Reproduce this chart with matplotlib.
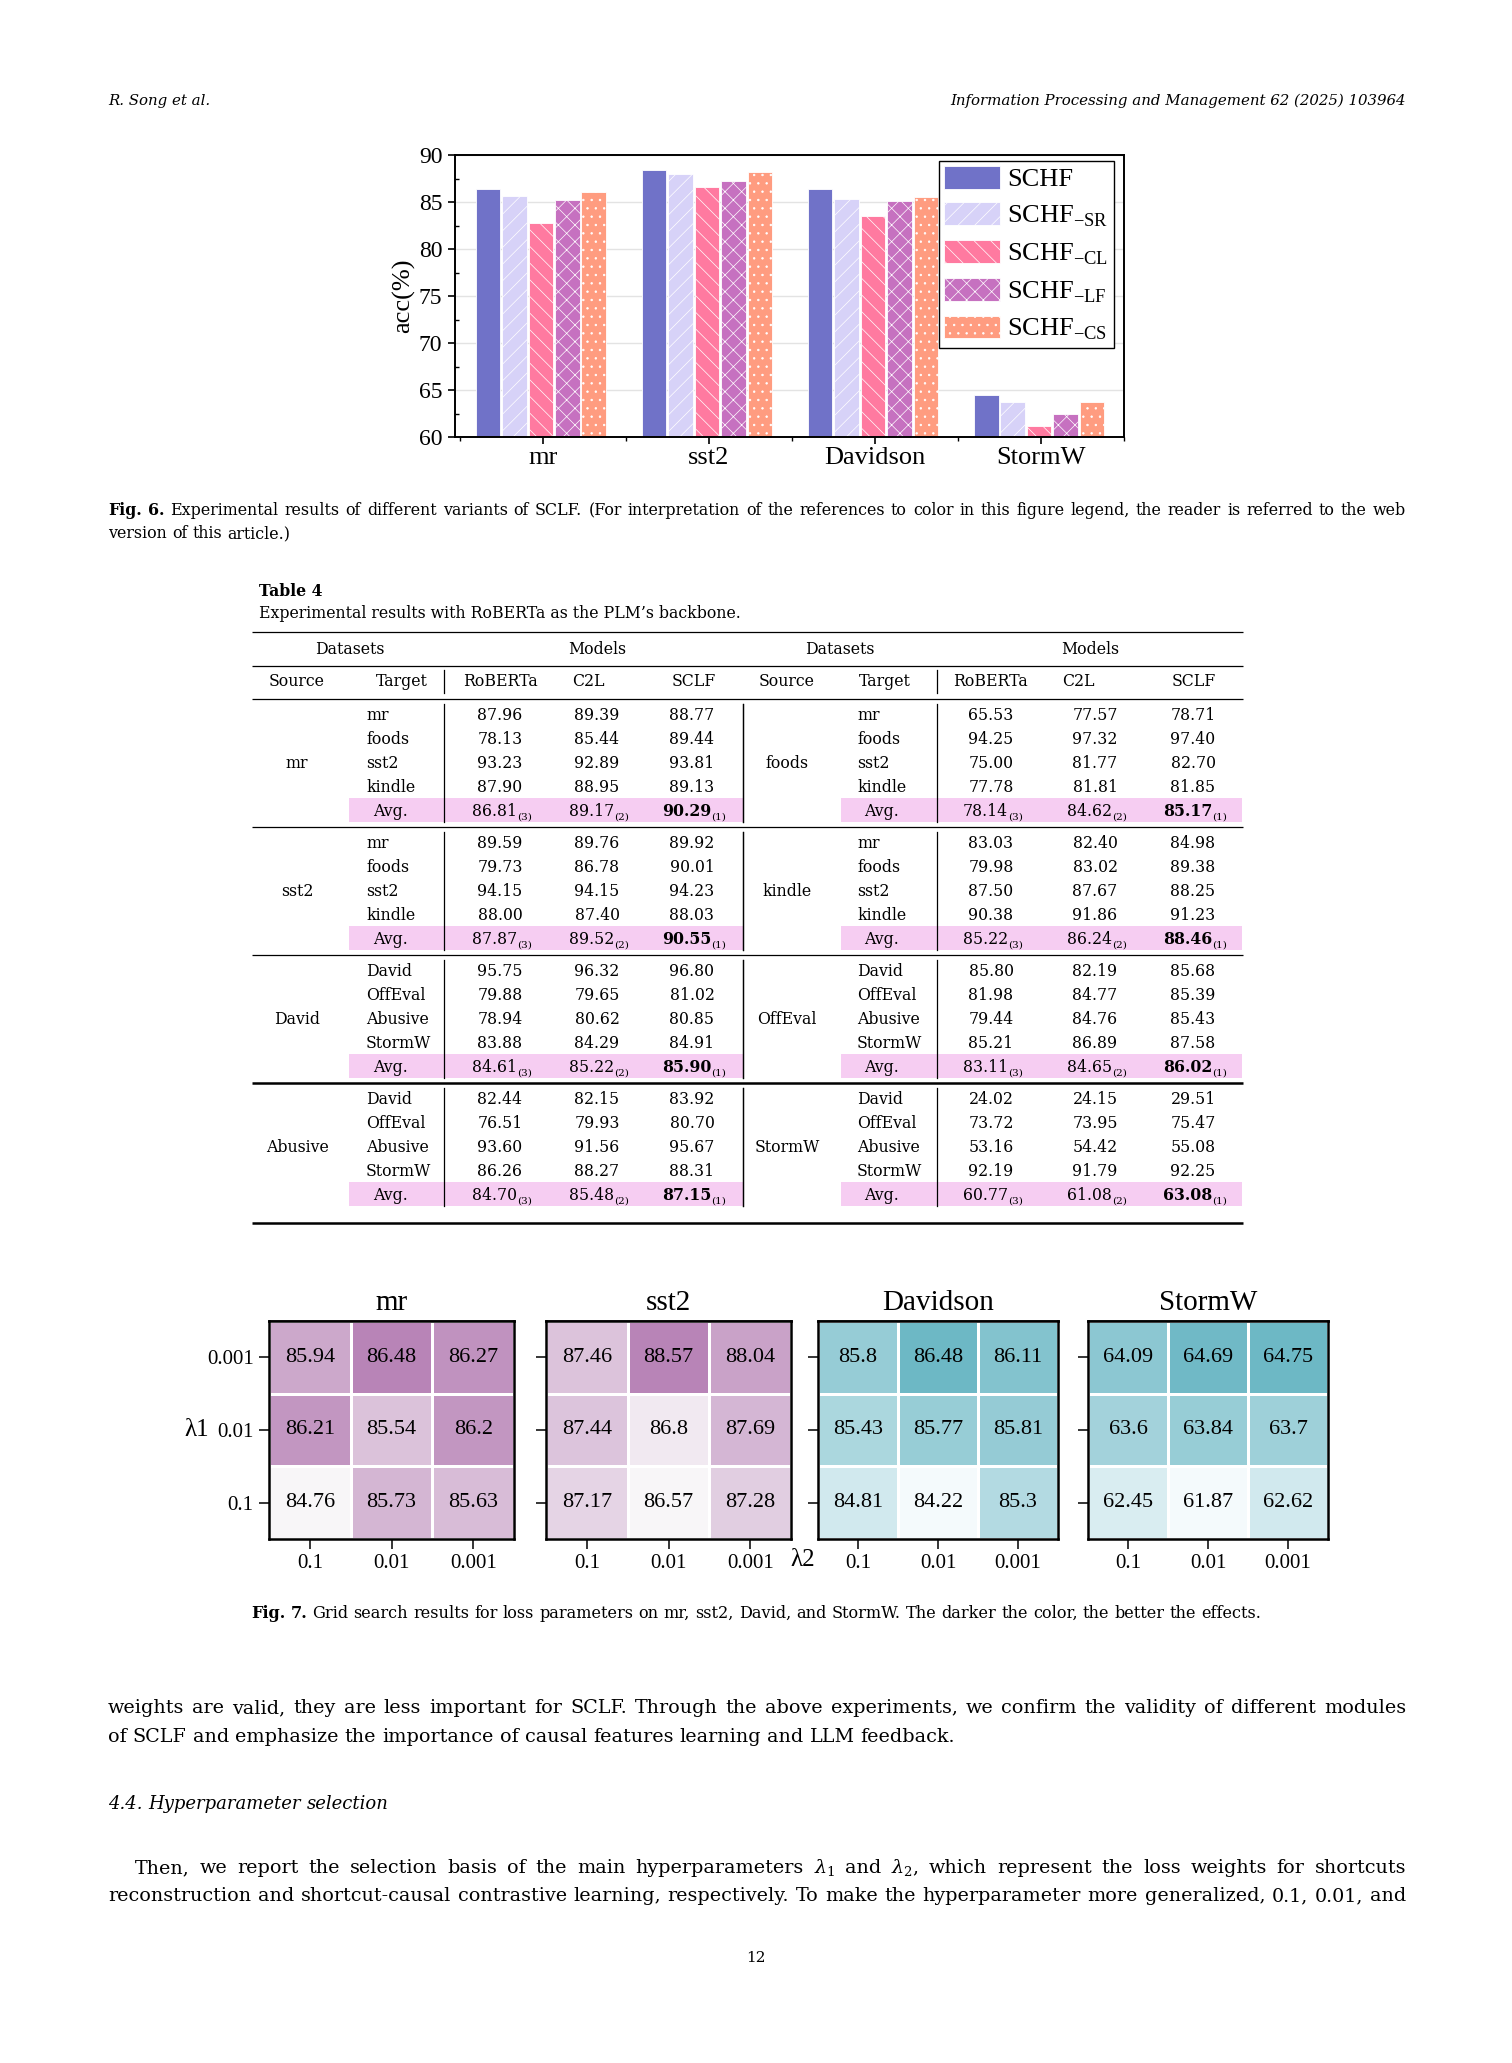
import numpy as np
import matplotlib as mpl
mpl.use('Agg')
from matplotlib import pyplot as plt
from matplotlib.colors import LinearSegmentedColormap

W, H, DPI = 1512, 2063, 100
SERIF = 'DejaVu Serif'
TIMES = 'Liberation Serif'

# ---------------- Fig. 6 data ----------------
datasets = ['mr', 'sst2', 'Davidson', 'StormW']
variant_names = ['SCHF', r'SCHF$_{\mathregular{-SR}}$', r'SCHF$_{\mathregular{-CL}}$',
                 r'SCHF$_{\mathregular{-LF}}$', r'SCHF$_{\mathregular{-CS}}$']
schf = [86.41, 88.45, 86.37, 64.46]
schf_sr = [85.63, 88.02, 85.33, 63.68]
schf_cl = [82.79, 86.62, 83.46, 61.17]
schf_lf = [85.17, 87.25, 85.10, 62.40]
schf_cs = [86.06, 88.24, 85.58, 63.76]

# ---------------- Table 4 data ----------------
models = ['RoBERTa', 'C2L', 'SCLF']
sources_left = ['mr', 'sst2', 'David', 'Abusive']
sources_right = ['foods', 'kindle', 'OffEval', 'StormW']
targets_a = ['mr', 'foods', 'sst2', 'kindle']
targets_b = ['David', 'OffEval', 'Abusive', 'StormW']
vals_mr = [[87.96, 89.39, 88.77], [78.13, 85.44, 89.44], [93.23, 92.89, 93.81], [87.90, 88.95, 89.13]]
avg_mr = [86.81, 89.17, 90.29]
vals_sst2 = [[89.59, 89.76, 89.92], [79.73, 86.78, 90.01], [94.15, 94.15, 94.23], [88.00, 87.40, 88.03]]
avg_sst2 = [87.87, 89.52, 90.55]
vals_david = [[95.75, 96.32, 96.80], [79.88, 79.65, 81.02], [78.94, 80.62, 80.85], [83.88, 84.29, 84.91]]
avg_david = [84.61, 85.22, 85.90]
vals_abusive = [[82.44, 82.15, 83.92], [76.51, 79.93, 80.70], [93.60, 91.56, 95.67], [86.26, 88.27, 88.31]]
avg_abusive = [84.70, 85.48, 87.15]
vals_foods = [[65.53, 77.57, 78.71], [94.25, 97.32, 97.40], [75.00, 81.77, 82.70], [77.78, 81.81, 81.85]]
avg_foods = [78.14, 84.62, 85.17]
vals_kindle = [[83.03, 82.40, 84.98], [79.98, 83.02, 89.38], [87.50, 87.67, 88.25], [90.38, 91.86, 91.23]]
avg_kindle = [85.22, 86.24, 88.46]
vals_offeval = [[85.80, 82.19, 85.68], [81.98, 84.77, 85.39], [79.44, 84.76, 85.43], [85.21, 86.89, 87.58]]
avg_offeval = [83.11, 84.65, 86.02]
vals_stormw = [[24.02, 24.15, 29.51], [73.72, 73.95, 75.47], [53.16, 54.42, 55.08], [92.19, 91.79, 92.25]]
avg_stormw = [60.77, 61.08, 63.08]
avg_ranks = ['(3)', '(2)', '(1)']

# ---------------- Fig. 7 data ----------------
lam_ticks = ['0.1', '0.01', '0.001']
lam1_ticks = ['0.001', '0.01', '0.1']
grid_names = ['mr', 'sst2', 'Davidson', 'StormW']
grid_mr = [[85.94, 86.48, 86.27], [86.21, 85.54, 86.2], [84.76, 85.73, 85.63]]
grid_sst2 = [[87.46, 88.57, 88.04], [87.44, 86.8, 87.69], [87.17, 86.57, 87.28]]
grid_david = [[85.8, 86.48, 86.11], [85.43, 85.77, 85.81], [84.81, 84.22, 85.3]]
grid_stormw = [[64.09, 64.69, 64.75], [63.6, 63.84, 63.7], [62.45, 61.87, 62.62]]

plt.rcParams['font.family'] = TIMES
plt.rcParams['mathtext.fontset'] = 'dejavuserif'
plt.rcParams['hatch.linewidth'] = 0.5

fig = plt.figure(figsize=(W / DPI, H / DPI), dpi=DPI)
page = fig.add_axes([0, 0, 1, 1])
page.set_xlim(0, W)
page.set_ylim(H, 0)
page.axis('off')
R = fig.canvas.get_renderer()


def px_rect(x0, y0, x1, y1):
    return [x0 / W, 1 - y1 / H, (x1 - x0) / W, (y1 - y0) / H]


def toks(s, nbold=0, **kw):
    out = []
    for i, w in enumerate(s.split()):
        d = dict(kw)
        if i < nbold:
            d['weight'] = 'bold'
        out.append((w, d))
    return out


def put_words(words, x, y, size, x1=None, ha='left', justify=False):
    ts = [page.text(0, y, w, fontsize=size, va='baseline', family=SERIF, **d) for w, d in words]
    ws = [t.get_window_extent(R).width for t in ts]
    sp = 0.318 * size * DPI / 72
    if justify and len(ts) > 1:
        sp = (x1 - x - sum(ws)) / (len(ts) - 1)
    total = sum(ws) + sp * (len(ts) - 1)
    if ha == 'center':
        x = x - total / 2
    for t, w in zip(ts, ws):
        t.set_x(x)
        x += w + sp


# ---------------- page header ----------------
page.text(108, 105, 'R. Song et al.', fontsize=10.8, style='italic', family=SERIF, va='baseline')
page.text(1406, 105, 'Information Processing and Management 62 (2025) 103964', fontsize=10.8,
          style='italic', family=SERIF, va='baseline', ha='right')

# ---------------- Fig. 6 bar chart ----------------
ax = fig.add_axes(px_rect(455, 155, 1124, 437))
x = np.arange(len(datasets))
series = [schf, schf_sr, schf_cl, schf_lf, schf_cs]
colors = ['#7072c8', '#d7d2f8', '#ff7aa0', '#c671c0', '#ff9c80']
hatches = [None, '//', '\\\\', 'xx', '..']
for i, (vals, c, h, lab) in enumerate(zip(series, colors, hatches, variant_names)):
    ax.bar(x + (i - 2) * 0.159 - 0.012, vals, 0.148, color=c, hatch=h, edgecolor='white',
           linewidth=0.6, label=lab, zorder=2)
ax.set_xlim(-0.53, 3.5)
ax.set_ylim(60, 90)
ax.set_yticks(np.arange(60, 91, 5))
ax.set_yticks(np.arange(62.5, 90, 5), minor=True)
ax.set_xticks(x)
ax.set_xticks(np.arange(-0.5, 3.6, 1), minor=True)
ax.set_xticklabels(datasets)
ax.yaxis.grid(True, color='#e3e3e3', linewidth=1.0)
ax.set_axisbelow(True)
ax.tick_params(axis='y', which='major', direction='out', length=5, width=1.2, pad=4,
               labelsize=17, labelfontfamily=TIMES)
ax.tick_params(axis='y', which='minor', direction='in', length=3, width=1.0)
ax.tick_params(axis='x', which='major', direction='out', length=5, width=1.2, pad=2,
               labelsize=19, labelfontfamily=TIMES)
ax.tick_params(axis='x', which='minor', direction='out', length=3, width=1.0)
for s in ax.spines.values():
    s.set_linewidth(1.4)
ax.set_ylabel('acc(%)', fontsize=19, family=TIMES, labelpad=3)
leg = ax.legend(loc='upper right', bbox_to_anchor=(0.985, 0.98), prop={'family': TIMES, 'size': 19},
                frameon=True, fancybox=False, edgecolor='black', framealpha=1,
                handlelength=2.1, handleheight=0.95, labelspacing=0.42, handletextpad=0.3,
                borderpad=0.2, borderaxespad=0)
leg.get_frame().set_linewidth(1.0)

# ---------------- Fig. 6 caption ----------------
put_words(toks('Fig. 6. Experimental results of different variants of SCLF. (For interpretation of the '
               'references to color in this figure legend, the reader is referred to the web', nbold=2),
          108, 515, 11.4, x1=1406, justify=True)
put_words(toks('version of this article.)'), 108, 538, 11.4)

# ---------------- Table 4 ----------------
TS = 11.3
page.text(259, 596, 'Table 4', fontsize=TS, weight='bold', family=SERIF, va='baseline')
page.text(259, 618, 'Experimental results with RoBERTa as the PLM\u2019s backbone.', fontsize=TS,
          family=SERIF, va='baseline')

for yr, lw in [(632, 0.9), (666, 0.9), (699, 0.9), (827, 0.9), (955, 0.9), (1083, 1.8), (1223, 1.8)]:
    page.plot([252, 1243], [yr, yr], color='black', lw=lw, solid_capstyle='butt')

halves = [
    dict(src=297, tgt=366, cols=[500, 597, 692], vline=444, pink=(349, 743),
         hd=350, hm=597, hs=297, ht=376, hr=500, hc=572, hf=672,
         sources=sources_left, targets=[targets_a, targets_a, targets_b, targets_b],
         vals=[vals_mr, vals_sst2, vals_david, vals_abusive],
         avgs=[avg_mr, avg_sst2, avg_david, avg_abusive]),
    dict(src=787, tgt=857, cols=[991, 1095, 1193], vline=937, pink=(841, 1242),
         hd=840, hm=1090, hs=787, ht=859, hr=990, hc=1062, hf=1172,
         sources=sources_right, targets=[targets_a, targets_a, targets_b, targets_b],
         vals=[vals_foods, vals_kindle, vals_offeval, vals_stormw],
         avgs=[avg_foods, avg_kindle, avg_offeval, avg_stormw]),
]
B = 5.5  # baseline offset from visual centre
for hf in halves:
    page.text(hf['hd'], 648 + B, 'Datasets', fontsize=TS, family=SERIF, ha='center', va='baseline')
    page.text(hf['hm'], 648 + B, 'Models', fontsize=TS, family=SERIF, ha='center', va='baseline')
    page.text(hf['hs'], 681 + B, 'Source', fontsize=TS, family=SERIF, ha='center', va='baseline')
    page.text(hf['ht'], 681 + B, 'Target', fontsize=TS, family=SERIF, ha='left', va='baseline')
    page.text(hf['hr'], 681 + B, models[0], fontsize=TS, family=SERIF, ha='center', va='baseline')
    page.text(hf['hc'], 681 + B, models[1], fontsize=TS, family=SERIF, ha='left', va='baseline')
    page.text(hf['hf'], 681 + B, models[2], fontsize=TS, family=SERIF, ha='left', va='baseline')
    page.plot([hf['vline']] * 2, [670, 693], color='black', lw=0.9)
    for g in range(4):
        rule = 699 + 128 * g
        y0 = 714 + 128 * g
        ya = y0 + 4 * 24
        page.add_patch(plt.Rectangle((hf['pink'][0], ya - 12), hf['pink'][1] - hf['pink'][0], 24,
                                     color='#f6cdf2', lw=0, zorder=0))
        page.plot([hf['vline']] * 2, [rule + 5, ya + 12], color='black', lw=0.9)
        page.plot([743, 743], [rule + 5, ya + 12], color='black', lw=0.9)
        page.text(hf['src'], y0 + 2 * 24 + B, hf['sources'][g], fontsize=TS, family=SERIF,
                  ha='center', va='baseline')
        for i, tname in enumerate(hf['targets'][g]):
            yy = y0 + i * 24 + B
            page.text(hf['tgt'], yy, tname, fontsize=TS, family=SERIF, va='baseline')
            for c, v in zip(hf['cols'], hf['vals'][g][i]):
                page.text(c, yy, f'{v:.2f}', fontsize=TS, family=SERIF, ha='center', va='baseline')
        yy = ya + B
        page.text(hf['tgt'] + 24, yy, 'Avg.', fontsize=TS, family=SERIF, ha='center', va='baseline')
        for k, (c, v) in enumerate(zip(hf['cols'], hf['avgs'][g])):
            t1 = page.text(0, yy, f'{v:.2f}', fontsize=TS, family=SERIF, va='baseline',
                           weight='bold' if k == 2 else 'normal')
            t2 = page.text(0, yy + 4, avg_ranks[k], fontsize=7.5, family=SERIF, va='baseline')
            w1 = t1.get_window_extent(R).width
            w2 = t2.get_window_extent(R).width
            xs = c - (w1 + w2) / 2 + 2
            t1.set_x(xs)
            t2.set_x(xs + w1)

# ---------------- Fig. 7 heatmaps ----------------
purple = LinearSegmentedColormap.from_list('pu', ['#f8f6f8', '#b884b7'])
teal = LinearSegmentedColormap.from_list('te', ['#f4fafc', '#6db8c5'])
grids = [grid_mr, grid_sst2, grid_david, grid_stormw]
cmaps = [purple, purple, teal, teal]
boxes = [(269, 514), (546, 791), (818, 1058), (1088, 1328)]
for k, (name, g, cm, (bx0, bx1)) in enumerate(zip(grid_names, grids, cmaps, boxes)):
    a = fig.add_axes(px_rect(bx0, 1321, bx1, 1539))
    arr = np.array(g)
    a.pcolormesh(np.arange(4), np.arange(4), arr, cmap=cm, vmin=arr.min(), vmax=arr.max(),
                 edgecolors='white', linewidth=2.0)
    a.set_xlim(0, 3)
    a.set_ylim(3, 0)
    for r in range(3):
        for c in range(3):
            a.text(c + 0.5, r + 0.5, f'{arr[r, c]:g}', ha='center', va='center',
                   fontsize=16, family=TIMES)
    a.set_xticks(np.arange(3) + 0.5)
    a.set_xticklabels(lam_ticks)
    a.set_yticks(np.arange(3) + 0.5)
    if k == 0:
        a.set_yticklabels(lam1_ticks)
    else:
        a.set_yticklabels([])
    a.tick_params(axis='both', direction='out', length=7, width=1.1, pad=4,
                  labelsize=15, labelfontfamily=TIMES)
    top = a.secondary_xaxis('top')
    top.set_xticks(np.arange(3) + 0.5)
    top.set_xticklabels([])
    top.tick_params(direction='in', length=6, width=1.1)
    top.spines['top'].set_linewidth(1.8)
    for s in a.spines.values():
        s.set_linewidth(1.8)
    a.annotate(name, xy=(0.5, 1), xycoords='axes fraction', xytext=(0, 8), textcoords='offset points',
               ha='center', va='baseline', fontsize=21, family=TIMES)

page.text(197, 1430, '\u03bb1', fontsize=18, family=TIMES, ha='center', va='center')
page.text(803, 1560, '\u03bb2', fontsize=18, family=TIMES, ha='center', va='center')

put_words(toks('Fig. 7. Grid search results for loss parameters on mr, sst2, David, and StormW. '
               'The darker the color, the better the effects.', nbold=2), 756, 1618, 11.6, ha='center')

# ---------------- body text ----------------
BS = 13.8
put_words(toks('weights are valid, they are less important for SCLF. Through the above experiments, '
               'we confirm the validity of different modules'), 108, 1713, BS, x1=1406, justify=True)
put_words(toks('of SCLF and emphasize the importance of causal features learning and LLM feedback.'),
          108, 1742, BS)
put_words(toks('4.4. Hyperparameter selection', style='italic'), 108, 1809, 13)
put_words(toks(r'Then, we report the selection basis of the main hyperparameters $\lambda_1$ and '
               r'$\lambda_2$, which represent the loss weights for shortcuts'), 135, 1873, BS,
          x1=1406, justify=True)
put_words(toks('reconstruction and shortcut-causal contrastive learning, respectively. To make the '
               'hyperparameter more generalized, 0.1, 0.01, and'), 108, 1901, BS, x1=1406, justify=True)
page.text(756, 1962, '12', fontsize=11, family=SERIF, ha='center', va='baseline')

fig.savefig('out.png', dpi=DPI)
plt.close(fig)
